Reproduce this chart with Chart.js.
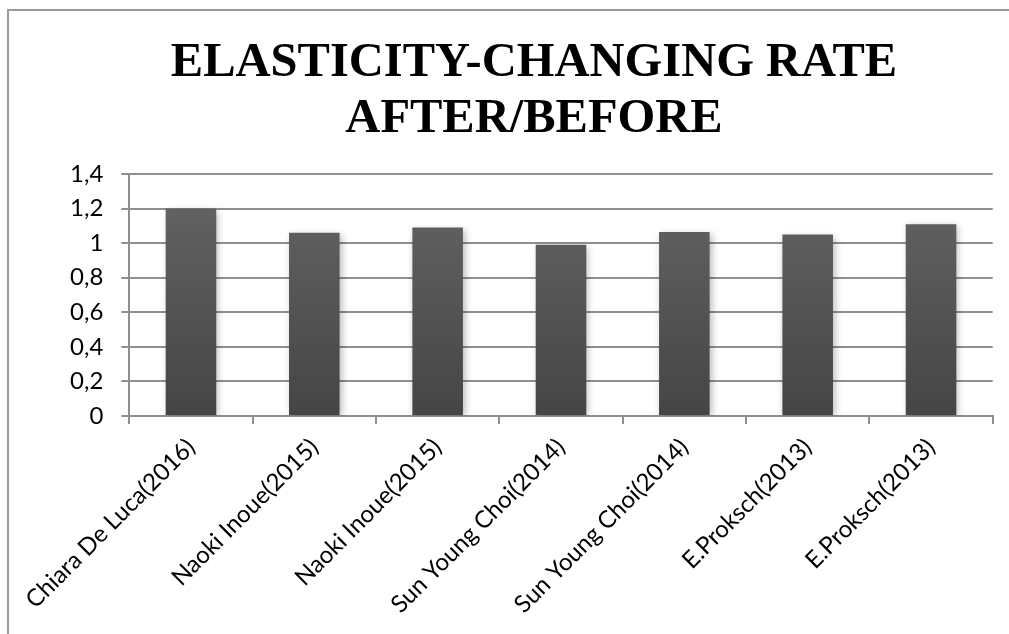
<!DOCTYPE html>
<html>
<head>
<meta charset="utf-8">
<script src="https://cdn.jsdelivr.net/npm/chart.js@4/dist/chart.umd.min.js"></script>
<style>
  html, body { margin: 0; padding: 0; background: #ffffff; overflow: hidden; }
  #frame {
    position: absolute; left: 7px; top: 9px;
    border: 2px solid #9a9a9a;
    width: 1060px; height: 640px;
  }
  #chart { display: block; }
</style>
</head>
<body>
<div id="frame"><canvas id="chart" width="1060" height="640"></canvas></div>
<script>
// Study labels (author and year) along the category axis
const categories = [
  'Chiara De Luca(2016)',
  'Naoki Inoue(2015)',
  'Naoki Inoue(2015)',
  'Sun Young Choi(2014)',
  'Sun Young Choi(2014)',
  'E.Proksch(2013)',
  'E.Proksch(2013)'
];
// Elasticity ratio after / before treatment
const ratioValues = [1.2, 1.06, 1.09, 0.99, 1.065, 1.05, 1.11];
// Value axis ticks, decimal comma notation
const yTickValues = [0, 0.2, 0.4, 0.6, 0.8, 1, 1.2, 1.4];
const yTickLabels = ['0', '0,2', '0,4', '0,6', '0,8', '1', '1,2', '1,4'];
const titleLines = ['ELASTICITY-CHANGING RATE', 'AFTER/BEFORE'];

const gridGrey = '#8f8f8f';
const labelFont = { family: 'Lato, "Open Sans", sans-serif', size: 24 };
const titleCenterX = 525;

// Soft drop shadow behind the bars
const barShadow = {
  id: 'barShadow',
  beforeDatasetsDraw(chart) {
    const c = chart.ctx;
    c.save();
    c.shadowColor = 'rgba(0,0,0,0.28)';
    c.shadowBlur = 7;
    c.shadowOffsetX = 2;
    c.shadowOffsetY = 2;
  },
  afterDatasetsDraw(chart) {
    chart.ctx.restore();
  }
};

// Centre the title block on the whole frame rather than on the drawing area
const titlePlacement = {
  id: 'titlePlacement',
  afterLayout(chart) {
    const t = chart.titleBlock;
    if (t) t.left = 2 * titleCenterX - t.right;
  }
};

function barGradient(context) {
  const chart = context.chart;
  const area = chart.chartArea;
  if (!area) return '#555555';
  const top = chart.scales.y.getPixelForValue(Math.max(...ratioValues));
  const g = chart.ctx.createLinearGradient(0, top, 0, area.bottom);
  g.addColorStop(0, '#616161');
  g.addColorStop(1, '#454545');
  return g;
}

new Chart(document.getElementById('chart'), {
  type: 'bar',
  data: {
    labels: categories,
    datasets: [{
      data: ratioValues,
      backgroundColor: barGradient,
      borderWidth: 0,
      barPercentage: 0.41,
      categoryPercentage: 1
    }]
  },
  plugins: [barShadow, titlePlacement],
  options: {
    responsive: false,
    animation: false,
    layout: { padding: { left: 0, right: 76.3, top: 0, bottom: 0 } },
    plugins: {
      legend: { display: false },
      tooltip: { enabled: false },
      title: {
        display: true,
        text: titleLines,
        color: '#000000',
        font: { family: '"Liberation Serif", "Times New Roman", serif', size: 48.5, weight: 'bold', lineHeight: 56 / 48.5 },
        padding: { top: 24, bottom: 27 }
      }
    },
    scales: {
      x: {
        offset: true,
        grid: {
          offset: true,
          drawOnChartArea: false,
          drawTicks: true,
          tickLength: 8,
          color: gridGrey,
          lineWidth: 2
        },
        border: { display: true, color: gridGrey, width: 2 },
        ticks: {
          minRotation: 45,
          maxRotation: 45,
          autoSkip: false,
          padding: 9,
          color: '#000000',
          font: labelFont
        },
        afterFit(scale) { scale.height = 235; }
      },
      y: {
        min: 0,
        max: 1.4,
        afterBuildTicks(scale) {
          scale.ticks = yTickValues.map(v => ({ value: v }));
        },
        grid: {
          drawTicks: true,
          tickLength: 8,
          color: gridGrey,
          lineWidth: 2
        },
        border: { display: true, color: gridGrey, width: 2 },
        ticks: {
          padding: 18,
          color: '#000000',
          font: labelFont,
          callback(value, index) { return yTickLabels[index]; }
        },
        afterFit(scale) { scale.width = 120.3; }
      }
    }
  }
});
</script>
</body>
</html>
